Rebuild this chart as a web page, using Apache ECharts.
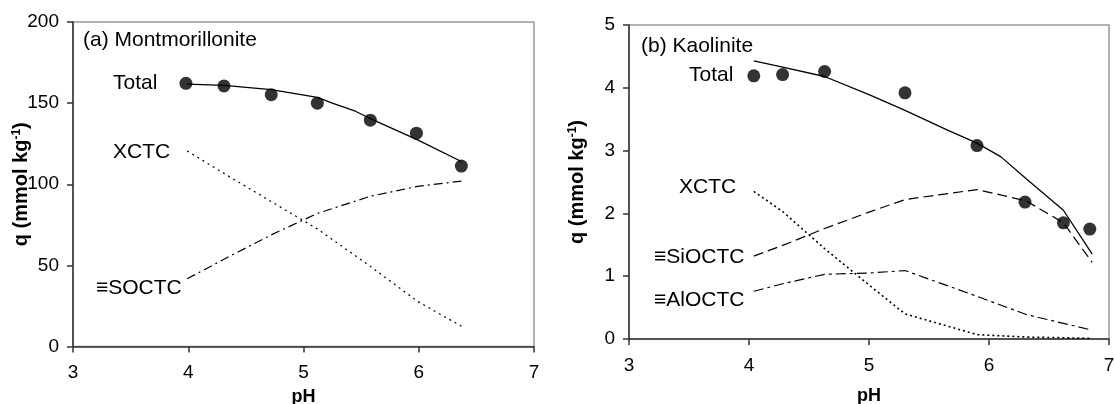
<!DOCTYPE html>
<html>
<head>
<meta charset="utf-8">
<script src="https://cdn.jsdelivr.net/npm/echarts@6/dist/echarts.min.js"></script>
<style>
html,body{margin:0;padding:0;background:#fff;}
#chart{width:1114px;height:404px;}
</style>
</head>
<body>
<div id="chart"></div>
<script>
// ---- (a) Montmorillonite ----
const phLeftPts      = [3.98, 4.31, 4.72, 5.12, 5.58, 5.98, 6.37];
const totalLeftPts   = [162.2, 160.6, 155.2, 150.0, 139.5, 131.5, 111.2];
const phLeftModel    = [3.99, 4.31, 4.72, 5.12, 5.25, 5.45, 5.58, 5.99, 6.37];
const totalLeftModel = [161.7, 161.0, 158.3, 153.6, 150.0, 145.0, 140.5, 127.3, 114.0];
const phLeftComp     = [3.99, 4.31, 4.72, 5.12, 5.58, 5.99, 6.37];
const xctcLeft       = [120.5, 106.7, 89.3, 72.5, 49.4, 27.8, 12.5];
const soctcLeft      = [41.7, 53.8, 68.8, 82.0, 92.6, 98.7, 101.9];

// ---- (b) Kaolinite ----
const phRightPts      = [4.04, 4.28, 4.63, 5.30, 5.90, 6.30, 6.62, 6.84];
const totalRightPts   = [4.19, 4.21, 4.26, 3.92, 3.08, 2.18, 1.85, 1.75];
const phRightModel    = [4.04, 4.28, 4.63, 5.0, 5.3, 5.65, 5.9, 6.1, 6.31, 6.62, 6.86];
const totalRightModel = [4.43, 4.33, 4.18, 3.89, 3.64, 3.33, 3.12, 2.9, 2.55, 2.05, 1.35];
const phRightComp     = [4.04, 4.28, 4.63, 5.0, 5.3, 5.9, 6.31, 6.62, 6.86];
const xctcRight       = [2.35, 2.03, 1.44, 0.86, 0.40, 0.07, 0.03, 0.02, 0.01];
const siocRight       = [1.32, 1.49, 1.76, 2.02, 2.22, 2.38, 2.20, 1.85, 1.22];
const aliocRight      = [0.76, 0.88, 1.03, 1.05, 1.09, 0.68, 0.39, 0.25, 0.14];

// ---- axis ticks / text ----
const xTicks = {min: 3, max: 7, interval: 1};
const yLeftTicks = {min: 0, max: 200, interval: 50};
const yRightTicks = {min: 0, max: 5, interval: 1};
const xTitle = 'pH';
const yTitle = 'q (mmol kg{sup|-1})';
const leftLabels = ['(a) Montmorillonite', 'Total', 'XCTC', '≡SOCTC'];
const rightLabels = ['(b) Kaolinite', 'Total', 'XCTC', '≡SiOCTC', '≡AlOCTC'];

const FONT = 'Liberation Sans, Arial, sans-serif';
const zip = (xs, ys) => xs.map((x, i) => [x, ys[i]]);

function xAxisCfg(gi, gap) {
  return {
    gridIndex: gi, type: 'value', min: xTicks.min, max: xTicks.max, interval: xTicks.interval,
    axisLine: {show: true, onZero: false, lineStyle: {color: '#333', width: 1.5}},
    axisTick: {show: true, length: 6, lineStyle: {color: '#333', width: 1.5}},
    axisLabel: {margin: 17, fontSize: 19, color: '#000', fontFamily: FONT},
    splitLine: {show: false},
    name: xTitle, nameLocation: 'middle', nameGap: gap, nameMoveOverlap: false,
    nameTextStyle: {fontSize: 18, fontWeight: 'bold', color: '#000', fontFamily: FONT}
  };
}
function yAxisCfg(gi, t) {
  return {
    gridIndex: gi, type: 'value', min: t.min, max: t.max, interval: t.interval,
    axisLine: {show: true, onZero: false, lineStyle: {color: '#333', width: 1.5}},
    axisTick: {show: true, length: 6, lineStyle: {color: '#333', width: 1.5}},
    axisLabel: {margin: 14, fontSize: 19, color: '#000', fontFamily: FONT},
    splitLine: {show: false},
    name: yTitle, nameLocation: 'middle', nameGap: 42, nameRotate: 90, nameMoveOverlap: false,
    nameTextStyle: {fontSize: 20, fontWeight: 'bold', color: '#000', fontFamily: FONT,
      rich: {sup: {fontSize: 12, fontWeight: 'bold', color: '#000', fontFamily: FONT, verticalAlign: 'top', padding: [0, 0, 8, 0]}}}
  };
}
function lineS(xi, data, type, w) {
  return {type: 'line', xAxisIndex: xi, yAxisIndex: xi, data: data, showSymbol: false, symbol: 'none',
    lineStyle: {color: '#000', width: w || 1.2, type: type}, silent: true, z: 2};
}
function dotsS(xi, data) {
  return {type: 'scatter', xAxisIndex: xi, yAxisIndex: xi, data: data, symbol: 'circle', symbolSize: 13,
    itemStyle: {color: '#000'}, silent: true, z: 3};
}
function txt(x, y, s) {
  return {type: 'text', x: x, y: y, style: {text: s, font: '21px ' + FONT, fill: '#000', verticalAlign: 'middle'}, z: 10};
}

const option = {
  animation: false,
  backgroundColor: '#fff',
  grid: [
    {left: 73, top: 22, width: 461, height: 324.5, show: true, borderColor: '#999', borderWidth: 1.5,
     containLabel: false, outerBoundsMode: 'none'},
    {left: 629, top: 25, width: 480, height: 314, show: true, borderColor: '#999', borderWidth: 1.5,
     containLabel: false, outerBoundsMode: 'none'}
  ],
  xAxis: [xAxisCfg(0, 42), xAxisCfg(1, 48)],
  yAxis: [yAxisCfg(0, yLeftTicks), yAxisCfg(1, yRightTicks)],
  series: [
    lineS(0, zip(phLeftModel, totalLeftModel), 'solid', 1.3),
    lineS(0, zip(phLeftComp, xctcLeft), [2, 4]),
    lineS(0, zip(phLeftComp, soctcLeft), [9, 4, 2, 4]),
    dotsS(0, zip(phLeftPts, totalLeftPts)),
    lineS(1, zip(phRightModel, totalRightModel), 'solid', 1.3),
    lineS(1, zip(phRightComp, xctcRight), [2, 3], 1.6),
    lineS(1, zip(phRightComp, siocRight), [10, 5]),
    lineS(1, zip(phRightComp, aliocRight), [10, 4, 3, 4]),
    dotsS(1, zip(phRightPts, totalRightPts))
  ],
  graphic: [
    txt(83, 40, leftLabels[0]),
    txt(113, 83, leftLabels[1]),
    txt(113, 152, leftLabels[2]),
    txt(96, 288, leftLabels[3]),
    txt(641, 46, rightLabels[0]),
    txt(689, 75, rightLabels[1]),
    txt(679, 187, rightLabels[2]),
    txt(654, 257, rightLabels[3]),
    txt(654, 300, rightLabels[4])
  ]
};
const chart = echarts.init(document.getElementById('chart'), null, {renderer: 'canvas'});
chart.setOption(option);
</script>
</body>
</html>
